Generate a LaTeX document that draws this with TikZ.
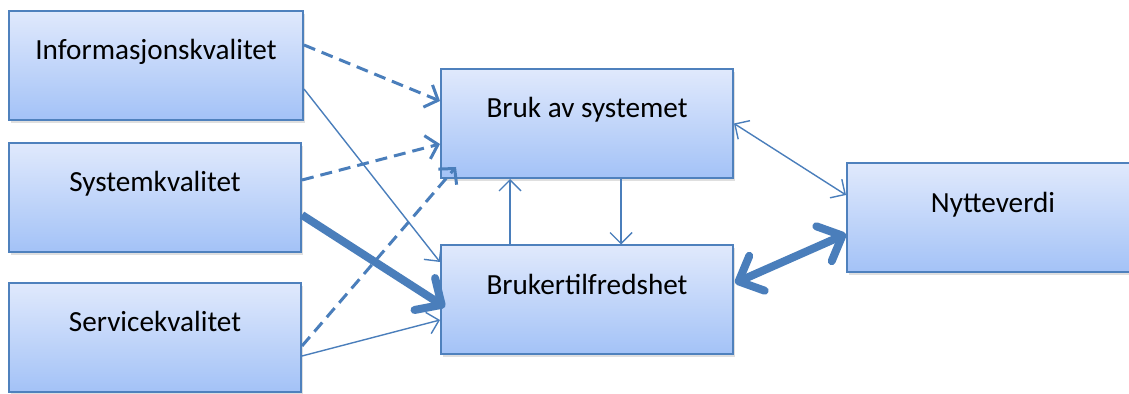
\documentclass[tikz,border=0pt]{standalone}
\usepackage{fontspec}
\setmainfont{Carlito}
\usetikzlibrary{arrows.meta,calc,shadows}
\definecolor{boxline}{RGB}{79,129,189}
\definecolor{boxtop}{RGB}{224,233,252}
\definecolor{boxbottom}{RGB}{163,194,247}
\definecolor{arrowblue}{RGB}{74,126,187}
\tikzset{
  box/.style={draw=boxline, line width=1pt, top color=boxtop, bottom color=boxbottom,
    minimum width=146pt, inner sep=0pt, text height=24.5pt, text depth=30pt,
    font=\fontsize{14.6}{17}\selectfont,
    drop shadow={opacity=0.25, shadow xshift=1pt, shadow yshift=-1.5pt}},
  thinarrow/.style={draw=arrowblue, line width=0.7pt,
    -{Straight Barb[length=5.5pt,width=11pt]}},
  thinboth/.style={draw=arrowblue, line width=0.7pt,
    {Straight Barb[length=5.5pt,width=11pt]}-{Straight Barb[length=5.5pt,width=11pt]}},
  dasharrow/.style={draw=arrowblue, line width=1.5pt, dash pattern=on 6pt off 3.5pt,
    -{Straight Barb[length=5.5pt,width=12pt]}},
  fatarrow/.style={draw=arrowblue, line width=4pt,
    -{Straight Barb[length=10pt,width=19pt,round]}},
  fatboth/.style={draw=arrowblue, line width=4pt,
    {Straight Barb[length=10pt,width=19pt,round]}-{Straight Barb[length=10pt,width=19pt,round]}}
}

\begin{document}
\begin{tikzpicture}[x=0.5pt,y=-0.5pt]
    \clip (0,0) rectangle (1129,394);

    % Draw boxes.
    \node[box, minimum width=147pt] (info) at (156,65.5) {Informasjonskvalitet};
    \node[box, minimum width=146pt] (sys) at (155,197.5) {Systemkvalitet};
    \node[box, minimum width=146pt] (serv) at (155,337.5) {Servicekvalitet};
    \node[box] (bruk) at (587,123.5) {Bruk av systemet};
    \node[box] (tilf) at (587,300) {Brukertilfredshet};
    \node[box] (nytte) at (993,218) {Nytteverdi};

    % Arrows into Bruk av systemet.
    \draw[dasharrow] ($(info.east)+(0,-20.5)$) -- ($(bruk.west)+(0,-22.5)$);
    \draw[dasharrow] ($(sys.east)+(0,-17.5)$) -- ($(bruk.west)+(0,20.5)$);
    \draw[dasharrow] ($(serv.east)+(0,8.5)$) -- ($(bruk.south west)+(16,-12)$);

    % Arrows into Brukertilfredshet.
    \draw[thinarrow] ($(info.east)+(0,23.5)$) -- ($(tilf.west)+(0,-38)$);
    \draw[fatarrow] ($(sys.east)+(0,17.5)$) -- ($(tilf.west)+(5,7)$);
    \draw[thinarrow] ($(serv.east)+(0,18.5)$) -- ($(tilf.west)+(0,20)$);

    % Between Bruk and Brukertilfredshet.
    \draw[thinarrow] ($(tilf.north west)+(70,0)$) -- ($(bruk.south west)+(70,0)$);
    \draw[thinarrow] ($(bruk.south west)+(181,0)$) -- ($(tilf.north west)+(181,0)$);

    % Arrows to Nytteverdi.
    \draw[thinboth] (bruk.east) -- ($(nytte.west)+(0,-23)$);
    \draw[fatboth] ($(tilf.east)+(1,-17)$) -- ($(nytte.west)+(0,16)$);
\end{tikzpicture}
\end{document}
